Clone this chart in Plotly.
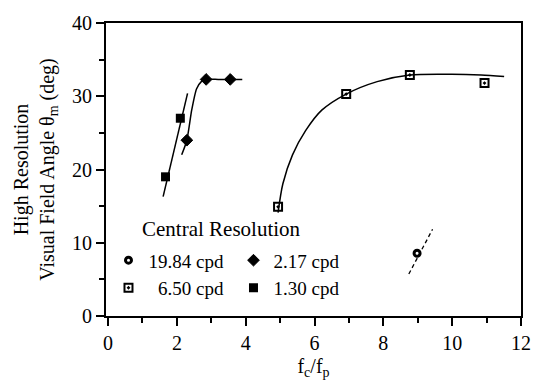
import plotly.graph_objects as go

# ---- data ----
x_1984 = [8.98]
y_1984 = [8.56]
fit_1984_x = [8.74, 9.43]
fit_1984_y = [5.73, 11.84]

x_217 = [2.29, 2.85, 3.55]
y_217 = [24.0, 32.3, 32.3]
fit_217_x = [2.14, 2.29, 2.43, 2.57, 2.71, 2.85, 3.20, 3.55, 3.90]
fit_217_y = [22.0, 24.0, 28.1, 31.0, 32.0, 32.3, 32.3, 32.3, 32.3]

x_650 = [4.94, 6.92, 8.77, 10.94]
y_650 = [14.9, 30.3, 32.9, 31.8]
fit_650_x = [4.94, 5.08, 5.36, 5.74, 6.21, 6.92, 7.82, 8.77, 9.99, 10.84, 11.51]
fit_650_y = [14.1, 18.06, 22.0, 25.3, 28.1, 30.3, 32.0, 32.9, 33.0, 32.9, 32.7]

x_130 = [1.67, 2.10]
y_130 = [19.0, 27.0]
fit_130_x = [1.60, 2.31]
fit_130_y = [16.3, 30.4]

x_ticks = [0, 2, 4, 6, 8, 10, 12]
y_ticks = [0, 10, 20, 30, 40]

FONT = "Liberation Serif"
BLACK = "#000000"

fig = go.Figure()

line_style = dict(color=BLACK, width=1.5)
fig.add_trace(go.Scatter(x=fit_130_x, y=fit_130_y, mode="lines", line=line_style,
                         showlegend=False, hoverinfo="skip"))
fig.add_trace(go.Scatter(x=fit_217_x, y=fit_217_y, mode="lines",
                         line=dict(color=BLACK, width=1.5, shape="spline", smoothing=0.6),
                         showlegend=False, hoverinfo="skip"))
fig.add_trace(go.Scatter(x=fit_650_x, y=fit_650_y, mode="lines",
                         line=dict(color=BLACK, width=1.5, shape="spline", smoothing=0.8),
                         showlegend=False, hoverinfo="skip"))
fig.add_trace(go.Scatter(x=fit_1984_x, y=fit_1984_y, mode="lines",
                         line=dict(color=BLACK, width=1.3, dash="4px,3px"),
                         showlegend=False, hoverinfo="skip"))

fig.add_trace(go.Scatter(x=x_1984, y=y_1984, mode="markers", name="19.84 cpd",
                         marker=dict(symbol="circle-open", size=6, color=BLACK,
                                     line=dict(color=BLACK, width=3)),
                         legend="legend"))
fig.add_trace(go.Scatter(x=x_217, y=y_217, mode="markers", name="2.17 cpd",
                         marker=dict(symbol="diamond", size=9, color=BLACK,
                                     line=dict(color=BLACK, width=1)),
                         legend="legend"))
fig.add_trace(go.Scatter(x=x_650, y=y_650, mode="markers", name="\u00a0\u00a06.50 cpd",
                         marker=dict(symbol="square-open-dot", size=8, color=BLACK,
                                     line=dict(color=BLACK, width=2)),
                         legend="legend2"))
fig.add_trace(go.Scatter(x=x_130, y=y_130, mode="markers", name="1.30 cpd",
                         marker=dict(symbol="square", size=9, color=BLACK,
                                     line=dict(color=BLACK, width=0)),
                         legend="legend2"))

axis_common = dict(
    showline=True, linecolor=BLACK, linewidth=2, mirror=True,
    ticks="outside", ticklen=8, tickwidth=1.5, tickcolor=BLACK,
    showgrid=False, zeroline=False,
    tickfont=dict(family=FONT, size=20, color=BLACK),
)

fig.update_layout(
    width=543, height=386,
    margin=dict(l=105.6, r=12.3, t=16, b=65),
    paper_bgcolor="white", plot_bgcolor="white",
    font=dict(family=FONT, color=BLACK),
    xaxis=dict(range=[-0.06, 12], tickvals=x_ticks,
               minor=dict(dtick=1, ticks="outside", ticklen=5, tickwidth=1.5, tickcolor=BLACK),
               title=dict(text="f<sub>c</sub>/f<sub>p</sub>", font=dict(family=FONT, size=20),
                          standoff=6),
               **axis_common),
    yaxis=dict(range=[0, 40], tickvals=y_ticks,
               minor=dict(dtick=5, ticks="outside", ticklen=5, tickwidth=1.5, tickcolor=BLACK),
               title=dict(text="High Resolution<br>Visual Field Angle \u03b8<sub>m</sub> (deg)",
                          font=dict(family=FONT, size=20), standoff=12),
               **axis_common),
    legend=dict(orientation="h", x=0.006, xanchor="left", y=0.19, yanchor="middle",
                entrywidth=80, entrywidthmode="pixels",
                font=dict(family=FONT, size=19, color=BLACK),
                bgcolor="rgba(0,0,0,0)", itemclick=False, itemdoubleclick=False),
    legend2=dict(orientation="h", x=0.006, xanchor="left", y=0.096, yanchor="middle",
                 entrywidth=80, entrywidthmode="pixels",
                 font=dict(family=FONT, size=19, color=BLACK),
                 bgcolor="rgba(0,0,0,0)", itemclick=False, itemdoubleclick=False),
    annotations=[dict(text="Central Resolution", xref="paper", yref="paper",
                      x=0.081, y=0.296, xanchor="left", yanchor="middle", showarrow=False,
                      font=dict(family=FONT, size=21, color=BLACK))],
)

fig.write_html("out.html")
